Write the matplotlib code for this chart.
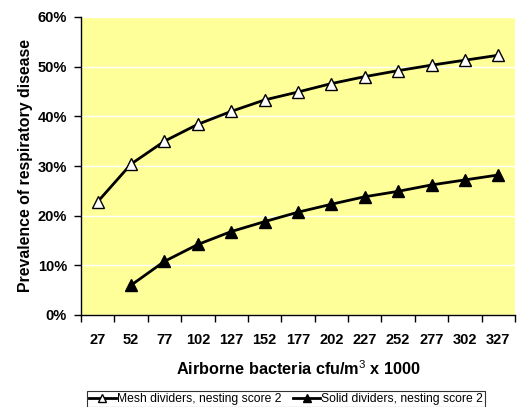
import numpy as np
import matplotlib.pyplot as plt
from matplotlib.ticker import PercentFormatter, FixedLocator

plt.rcParams['font.family'] = ['Liberation Sans', 'DejaVu Sans']
plt.rcParams['mathtext.fontset'] = 'custom'
plt.rcParams['mathtext.rm'] = 'Liberation Sans'
plt.rcParams['mathtext.bf'] = 'Liberation Sans:bold'

bacteria = ['27', '52', '77', '102', '127', '152', '177', '202', '227', '252', '277', '302', '327']
mesh = [22.8, 30.4, 35.0, 38.4, 41.0, 43.3, 44.9, 46.6, 48.0, 49.2, 50.3, 51.3, 52.3]
solid = [np.nan, 6.0, 10.8, 14.2, 16.8, 18.8, 20.7, 22.3, 23.8, 24.9, 26.2, 27.2, 28.2]

fig = plt.figure(figsize=(5.2, 4.07), dpi=100)
ax = fig.add_axes([81 / 520, 92 / 407, 434 / 520, 298 / 407])
ax.set_facecolor('#FFFF99')

x = np.arange(len(bacteria))
ax.plot(x, mesh, color='black', lw=2, marker='^', ms=8, mfc='white', mec='black', mew=1,
        label='Mesh dividers, nesting score 2')
ax.plot(x, solid, color='black', lw=2, marker='^', ms=8, mfc='black', mec='black', mew=1,
        label='Solid dividers, nesting score 2')

ax.set_xlim(-0.5, len(bacteria) - 0.5)
ax.set_ylim(0, 60)
ax.set_yticks(np.arange(0, 61, 10))
ax.yaxis.set_major_formatter(PercentFormatter(decimals=0))
ax.grid(axis='y', color='white', lw=1)
ax.set_axisbelow(True)

ax.set_xticks(x)
ax.set_xticklabels(bacteria)
ax.xaxis.set_minor_locator(FixedLocator(np.arange(-0.5, len(bacteria), 1)))
ax.tick_params(axis='x', which='major', length=0, pad=13)
ax.tick_params(axis='x', which='minor', length=5, width=1)
ax.tick_params(axis='y', length=5, width=1, pad=5)
for lab in ax.get_xticklabels() + ax.get_yticklabels():
    lab.set_fontsize(10.5)
    lab.set_fontweight('bold')

for s in ['top', 'right']:
    ax.spines[s].set_visible(False)
for s in ['left', 'bottom']:
    ax.spines[s].set_linewidth(1)

ax.set_xlabel('Airborne bacteria cfu/m$^{\\mathrm{3}}$ x 1000', fontsize=11.7, fontweight='bold', labelpad=9)
ax.set_ylabel('Prevalence of respiratory disease', fontsize=11.4, fontweight='bold', labelpad=3)

leg = fig.legend(loc='upper left', bbox_to_anchor=(87 / 520, 1 - 391 / 407), ncol=2, fontsize=8.75,
                 frameon=True, fancybox=False, edgecolor='black', handlelength=2.2, handletextpad=0.1,
                 columnspacing=1.0, borderpad=0.15, borderaxespad=0, markerscale=0.7)
leg.get_frame().set_linewidth(0.8)

fig.savefig('out.png', dpi=100)
